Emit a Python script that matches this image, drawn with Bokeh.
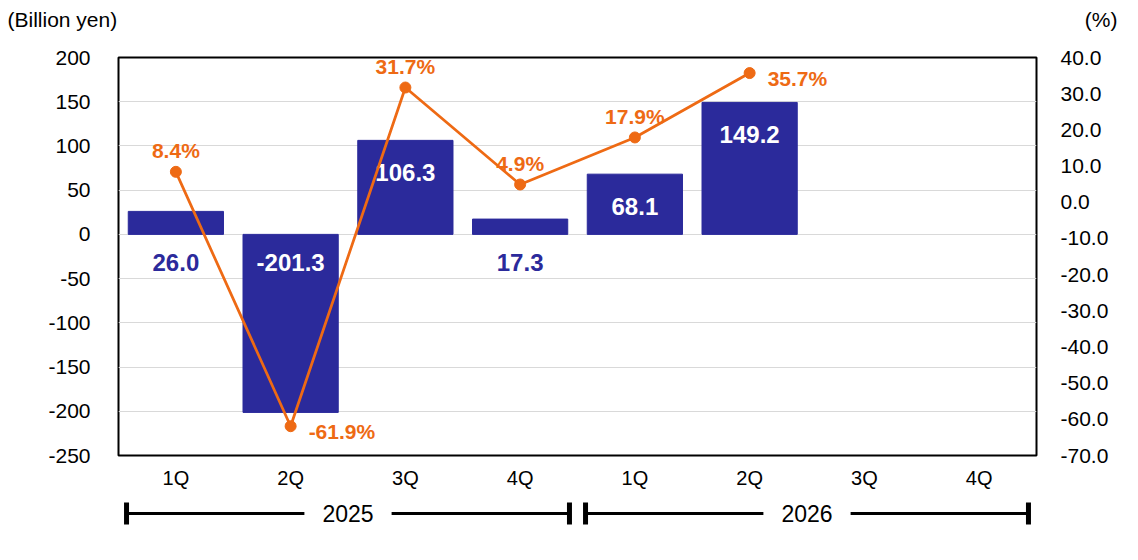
from bokeh.plotting import figure
from bokeh.models import Range1d, LinearAxis, FixedTicker, NumeralTickFormatter
from bokeh.layouts import column
from bokeh.embed import file_html
from bokeh.resources import INLINE
from bokeh.core.properties import value

# data
quarters = ["1Q", "2Q", "3Q", "4Q", "1Q", "2Q", "3Q", "4Q"]
years = ["2025", "2026"]
profit = [26.0, -201.3, 106.3, 17.3, 68.1, 149.2]      # billion yen
margin = [8.4, -61.9, 31.7, 4.9, 17.9, 35.7]           # %
margin_side = ["above", "right", "above", "above", "above", "right"]
left_ticks = [-250, -200, -150, -100, -50, 0, 50, 100, 150, 200]
right_ticks = [-70, -60, -50, -40, -30, -20, -10, 0, 10, 20, 30, 40]

FONT = "Liberation Sans"
NAVY = "#2B2A9B"
ORANGE = "#EE6A14"
W = 1130

xs = [i + 0.5 for i in range(len(quarters))]
bx = xs[:len(profit)]
lx = xs[:len(margin)]

# header strip with the unit captions
head = figure(width=W, height=40, x_range=Range1d(0, W), y_range=Range1d(40, 0),
              x_axis_type=None, y_axis_type=None, min_border=0,
              output_backend="svg", toolbar_location=None)
head.frame_align = False
head.outline_line_color = None
head.grid.visible = False
head.text(x=[7], y=[19], text=["(Billion yen)"], text_align="left", text_baseline="middle",
          text_font=value(FONT), text_font_size="21px", text_color="black")
head.text(x=[1117], y=[19], text=["(%)"], text_align="right", text_baseline="middle",
          text_font=value(FONT), text_font_size="21px", text_color="black")

# main chart
p = figure(width=W, height=455, x_range=Range1d(0, len(quarters)),
           y_range=Range1d(left_ticks[0], left_ticks[-1]),
           min_border_left=118, min_border_right=94, min_border_top=17, min_border_bottom=40,
           output_backend="svg", toolbar_location=None)
p.outline_line_color = "black"
p.outline_line_width = 2
p.xgrid.visible = False
p.ygrid.ticker = FixedTicker(ticks=left_ticks)
p.ygrid.grid_line_color = "#D9D9D9"
p.ygrid.grid_line_width = 1

p.xaxis.ticker = FixedTicker(ticks=xs)
p.xaxis.major_label_overrides = {x: q for x, q in zip(xs, quarters)}
p.yaxis.ticker = FixedTicker(ticks=left_ticks)
p.yaxis.formatter = NumeralTickFormatter(format="0")

p.extra_y_ranges = {"pct": Range1d(right_ticks[0], right_ticks[-1])}
rax = LinearAxis(y_range_name="pct", ticker=FixedTicker(ticks=right_ticks),
                 formatter=NumeralTickFormatter(format="0.0"))
p.add_layout(rax, "right")

for ax in p.axis:
    ax.axis_line_color = None
    ax.major_tick_line_color = None
    ax.minor_tick_line_color = None
    ax.major_label_text_font = FONT
    ax.major_label_text_font_size = "21px"
    ax.major_label_text_color = "black"
p.xaxis.major_label_text_font_size = "20px"
p.xaxis.major_label_standoff = 5
p.yaxis[0].major_label_standoff = 22
rax.major_label_standoff = 18
rax.major_label_text_align = "left"

p.vbar(x=bx, top=profit, bottom=0, width=0.83, color=NAVY)

# bar value labels: inside the bar when it is tall enough, otherwise under the zero line
inside = [abs(v) > 40 for v in profit]
lab_y = [v if (ins and v > 0) else 0 for v, ins in zip(profit, inside)]
lab_off = [32 if (ins and v > 0) else 28 for v, ins in zip(profit, inside)]
lab_col = ["white" if ins else NAVY for ins in inside]
p.text(x=bx, y=lab_y, y_offset=lab_off, text=[f"{v:.1f}" for v in profit],
       text_color=lab_col, text_align="center", text_baseline="middle",
       text_font=value(FONT), text_font_style="bold", text_font_size="24px")

p.line(x=lx, y=margin, y_range_name="pct", line_color=ORANGE, line_width=2.75)
p.scatter(x=lx, y=margin, y_range_name="pct", size=11, fill_color=ORANGE, line_color=ORANGE)

up = [i for i, s in enumerate(margin_side) if s == "above"]
rt = [i for i, s in enumerate(margin_side) if s == "right"]
p.text(x=[lx[i] for i in up], y=[margin[i] for i in up], y_offset=-21,
       text=[f"{margin[i]:.1f}%" for i in up], y_range_name="pct",
       text_color=ORANGE, text_align="center", text_baseline="middle",
       text_font=value(FONT), text_font_style="bold", text_font_size="21px")
p.text(x=[lx[i] for i in rt], y=[margin[i] for i in rt], x_offset=18, y_offset=5,
       text=[f"{margin[i]:.1f}%" for i in rt], y_range_name="pct",
       text_color=ORANGE, text_align="left", text_baseline="middle",
       text_font=value(FONT), text_font_style="bold", text_font_size="21px")

# year brackets under the quarter labels
br = figure(width=W, height=50, x_range=p.x_range, y_range=Range1d(50, 0),
            x_axis_type=None, y_axis_type=None,
            min_border_left=118, min_border_right=94, min_border_top=0, min_border_bottom=0,
            output_backend="svg", toolbar_location=None)
br.outline_line_color = None
br.grid.visible = False

per_year = len(quarters) // len(years)
inset = 0.07
gap = 0.38
by = 18
starts = [k * per_year + inset for k in range(len(years))]
ends = [(k + 1) * per_year - inset for k in range(len(years))]
mids = [(s + e) / 2 for s, e in zip(starts, ends)]
br.segment(x0=starts + [m + gap for m in mids], y0=by, x1=[m - gap for m in mids] + ends, y1=by,
           line_color="black", line_width=3)
br.segment(x0=starts + ends, y0=by - 11, x1=starts + ends, y1=by + 11,
           line_color="black", line_width=5)
br.text(x=mids, y=by, text=years, text_align="center", text_baseline="middle",
        text_font=value(FONT), text_font_size="23px", text_color="black")

layout = column(head, p, br)
open("out.html", "w").write(file_html(layout, INLINE))
